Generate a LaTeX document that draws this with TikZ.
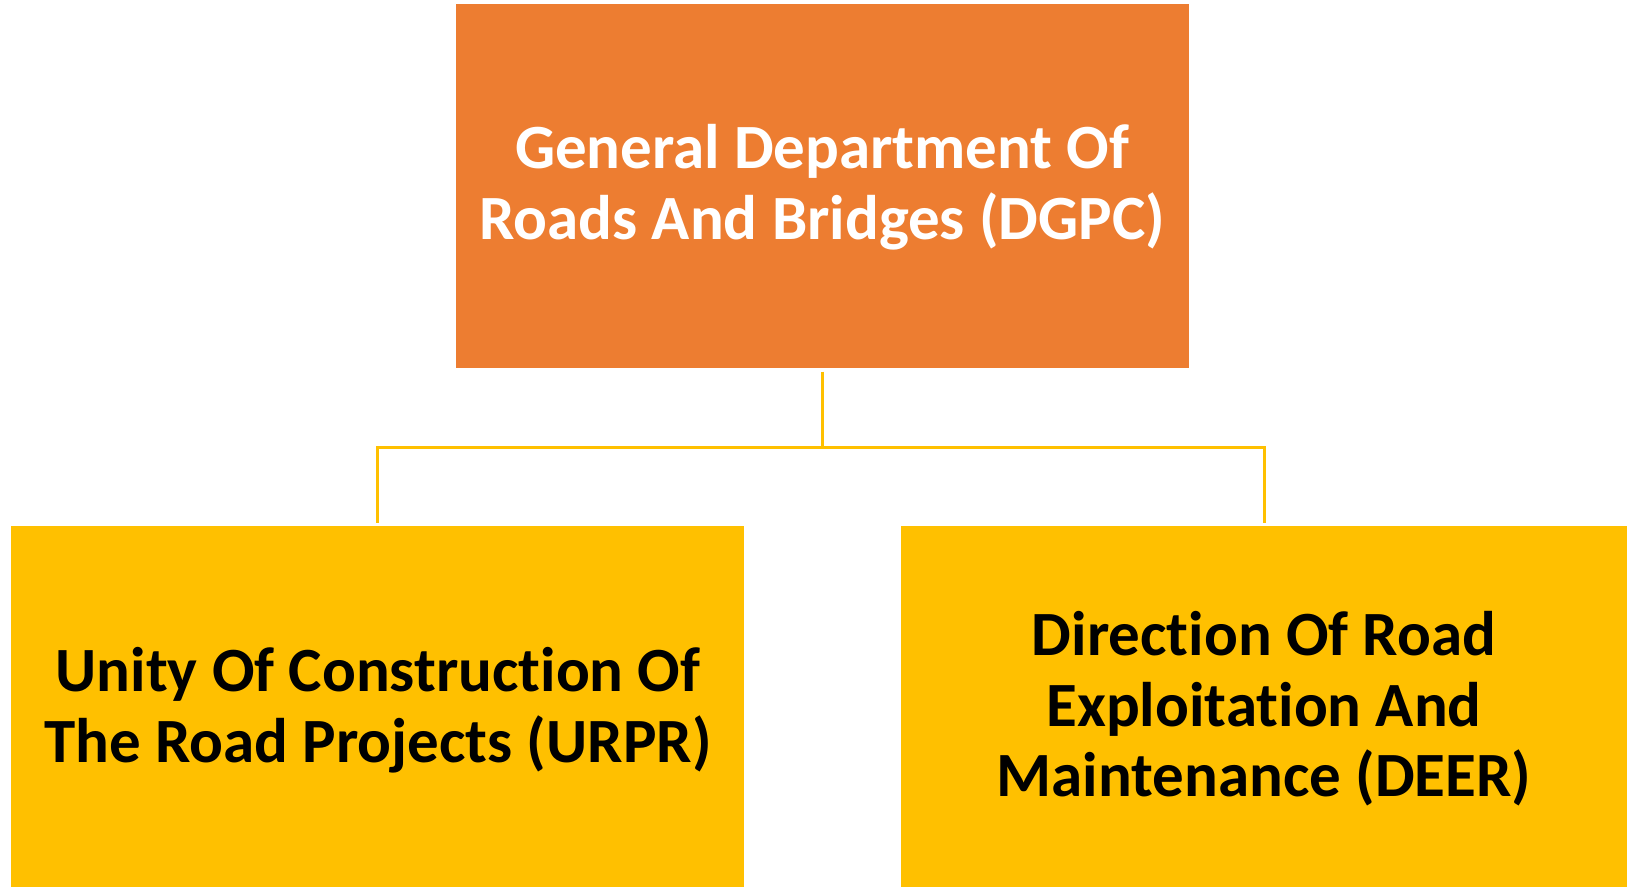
\documentclass[tikz,border=0pt]{standalone}
\usepackage{fontspec}
\setmainfont[RawFeature=-liga]{Carlito}
\definecolor{orangebox}{HTML}{ED7D31}
\definecolor{yellowbox}{HTML}{FFC000}
\begin{document}
\begin{tikzpicture}[x=1pt,y=-1pt,
  topbox/.style={fill=orangebox,text=white,minimum width=732.7pt,minimum height=364pt,inner sep=0pt},
  lowbox/.style={fill=yellowbox,text=black,minimum height=361pt,inner sep=0pt},
  lbl/.style={font=\bfseries\fontsize{63}{70.5}\selectfont,align=center},
  conn/.style={draw=yellowbox,line width=3pt}]
\useasboundingbox (0,0) rectangle (1627,887);
\fill[white] (0,0) rectangle (1627,887);
\node[topbox] (top) at (822.3,186) {};
\node[lowbox,minimum width=733pt] (left) at (377.5,706.5) {};
\node[lowbox,minimum width=726pt] (right) at (1264,706.5) {};
\node[lbl,text=white] (ttop) at (822.3,187) {General Department Of\\Roads And Bridges (DGPC)};
\node[lbl] (tleft) at (378,710) {Unity Of Construction Of\\The Road Projects (URPR)};
\node[lbl] (tright) at (1264,709) {Direction Of Road\\Exploitation And\\Maintenance (DEER)};
\coordinate (mid) at (822.3,447.3);
\draw[conn,shorten <=3.5pt] (top.south) -- (mid);
\draw[conn,shorten >=3.3pt] (mid) -| (left.north);
\draw[conn,shorten >=3.3pt] (mid) -| (right.north);
\end{tikzpicture}
\end{document}
